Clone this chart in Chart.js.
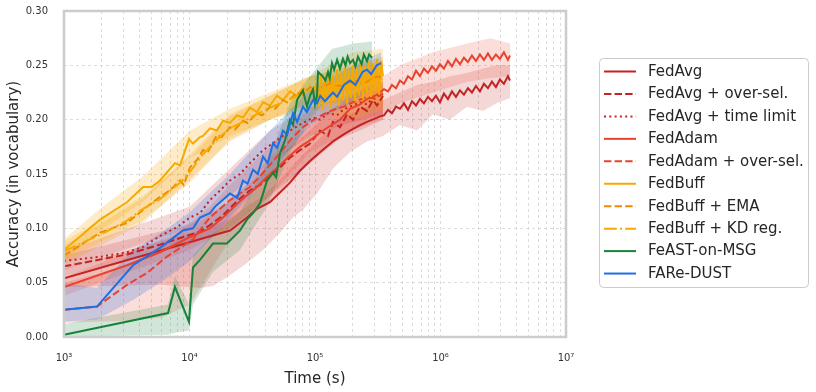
<!DOCTYPE html>
<html><head><meta charset="utf-8">
<script src="https://cdn.jsdelivr.net/npm/chart.js@4/dist/chart.umd.min.js"></script>
<style>html,body{margin:0;padding:0;background:#fff;}#wrap{width:816px;height:392px;}</style>
</head><body><div id="wrap"><canvas id="c" width="816" height="392"></canvas></div>
<script>
const seriesNames = ['FedAvg','FedAvg + over-sel.','FedAvg + time limit','FedAdam','FedAdam + over-sel.','FedBuff','FedBuff + EMA','FedBuff + KD reg.','FeAST-on-MSG','FARe-DUST'];
const xTickLabels = ['10³','10⁴','10⁵','10⁶','10⁷'];
const yTickLabels = ['0.00','0.05','0.10','0.15','0.20','0.25','0.30'];

// FedAvg
const fedAvgT = [1000,21030,28710,34510,43750,52600,63240,75860,91200,109600,139100,167000,190000,228400,259600,300000,330000,
 354600,381600,410600,441900,475500,511700,550600,592500,637600,686100,738300,794500,855000,920000,990000,1065000,1146000,1234000,1328000,1429000,1537000,1654000,1780000,1916000,2062000,2219000,2388000,2569000,2765000,2975000,3201000,3445000,3580000];
const fedAvgY = [0.054,0.098,0.110,0.118,0.124,0.133,0.142,0.153,0.162,0.170,0.180,0.186,0.190,0.195,0.198,0.201,0.203,
 0.204,0.209,0.206,0.212,0.210,0.215,0.209,0.217,0.213,0.219,0.215,0.221,0.217,0.222,0.216,0.224,0.219,0.226,0.221,0.227,0.223,0.229,0.225,0.231,0.226,0.233,0.229,0.235,0.230,0.237,0.233,0.240,0.236];
const fedAvgBandT = [1000,5821,12130,15380,19910,28710,38550,52600,66830,80170,103700,139100,190000,259600,348300,475000,650000,871000,1190000,1626000,2182000,2800000,3580000];
const fedAvgLo = [0.046,0.048,0.045,0.047,0.055,0.068,0.080,0.096,0.110,0.117,0.132,0.155,0.170,0.180,0.185,0.195,0.190,0.205,0.200,0.212,0.208,0.215,0.220];
const fedAvgHi = [0.063,0.088,0.098,0.102,0.108,0.120,0.130,0.145,0.158,0.168,0.180,0.195,0.205,0.212,0.218,0.225,0.232,0.235,0.240,0.243,0.247,0.250,0.250];

// FedAvg + over-sel.
const fedAvgOsT = [1000,3177,5821,10090,12130,14560,18490,23900,30340,36480,43750,52600,63240,75860,91200,109600,127000,139100,158100,180000,200900,228400,259600,289800,311800,348300];
const fedAvgOsY = [0.065,0.076,0.085,0.094,0.097,0.103,0.112,0.125,0.135,0.140,0.148,0.156,0.165,0.172,0.178,0.190,0.185,0.198,0.193,0.205,0.200,0.212,0.208,0.218,0.213,0.222];
const fedAvgOsBandT = [1000,10090,21030,43750,91200,139100,228400,348300];
const fedAvgOsLo = [0.056,0.085,0.100,0.130,0.160,0.180,0.190,0.200];
const fedAvgOsHi = [0.075,0.104,0.125,0.160,0.190,0.210,0.225,0.232];

// FedAvg + time limit
const fedAvgTlT = [1000,2000,3177,4266,5821,7943,10090,12130,14560,16550,21030,25240,30340,38550,49770,63240,80170,96380,109600,127000,150000,167000,190000,228400,259600,289800,348300];
const fedAvgTlY = [0.070,0.074,0.078,0.083,0.093,0.101,0.110,0.114,0.126,0.132,0.144,0.150,0.160,0.172,0.181,0.190,0.197,0.202,0.200,0.206,0.204,0.209,0.212,0.216,0.214,0.220,0.224];
const fedAvgTlBandT = [1000,10090,21030,43750,91200,167000,348300];
const fedAvgTlLo = [0.062,0.100,0.130,0.160,0.185,0.195,0.205];
const fedAvgTlHi = [0.079,0.120,0.155,0.190,0.212,0.220,0.235];

// FedAdam
const fedAdamT = [1000,3177,5821,10090,14560,18490,25240,34510,43750,52600,63240,75860,91200,109600,127000,158100,190000,228400,259600,300000,330000,
 354600,381600,410600,441900,475500,511700,550600,592500,637600,686100,738300,794500,855000,920000,990000,1065000,1146000,1234000,1328000,1429000,1537000,1654000,1780000,1916000,2062000,2219000,2388000,2569000,2765000,2975000,3201000,3445000,3580000];
const fedAdamY = [0.046,0.066,0.078,0.092,0.100,0.110,0.125,0.138,0.150,0.158,0.167,0.175,0.181,0.188,0.193,0.200,0.210,0.214,0.219,0.222,0.225,
 0.228,0.226,0.232,0.229,0.236,0.233,0.240,0.237,0.245,0.240,0.247,0.243,0.249,0.245,0.251,0.247,0.254,0.249,0.256,0.251,0.257,0.253,0.259,0.254,0.260,0.255,0.261,0.255,0.260,0.256,0.262,0.255,0.259];
const fedAdamBandT = [1000,10090,21030,43750,91200,190000,348300,475000,871000,1626000,2500000,3580000];
const fedAdamLo = [0.038,0.080,0.100,0.125,0.160,0.190,0.205,0.215,0.225,0.235,0.238,0.240];
const fedAdamHi = [0.055,0.100,0.125,0.165,0.195,0.222,0.240,0.250,0.262,0.270,0.275,0.270];

// FedAdam + over-sel.
const fedAdamOsT = [1000,1832,3177,4581,6623,10660,14560,21030,30340,38550,49770,63240,80170,103700,139100,170000,200000,259600,300000,348300];
const fedAdamOsY = [0.025,0.028,0.048,0.059,0.074,0.090,0.110,0.126,0.138,0.151,0.166,0.181,0.193,0.202,0.209,0.212,0.216,0.221,0.219,0.224];
const fedAdamOsBandT = [1000,3177,6000,10090,14560,21030,43750,91200,190000,348300];
const fedAdamOsLo = [0.013,0.015,0.018,0.030,0.060,0.090,0.130,0.170,0.190,0.200];
const fedAdamOsHi = [0.050,0.065,0.085,0.105,0.120,0.140,0.175,0.210,0.225,0.235];

// FedBuff
const fedBuffT = [1000,1936,3177,4266,5000,5821,7660,8395,9903,10660,12130,12820,14560,16550,18490,21030,23900,26680,30340,34510,38550,43750,49770,55590,63240,71940,80170,91200,103700,
 107600,111600,115800,120100,124600,129300,134100,139100,144300,149700,155300,161100,167100,173400,179900,186600,193600,200800,208300,216100,224200,232600,241300,250300,259700,269400,279500,289900,300700,312000,323700,335800,348300];
const fedBuffY = [0.080,0.108,0.124,0.138,0.138,0.144,0.160,0.158,0.182,0.178,0.184,0.185,0.192,0.190,0.199,0.197,0.204,0.202,0.211,0.207,0.216,0.213,0.222,0.218,0.226,0.222,0.229,0.226,0.232,
 0.212,0.240,0.209,0.238,0.214,0.243,0.211,0.241,0.216,0.246,0.213,0.244,0.218,0.248,0.215,0.246,0.220,0.250,0.217,0.248,0.222,0.252,0.219,0.250,0.224,0.254,0.221,0.252,0.226,0.256,0.223,0.254,0.240];
const fedBuffBandT = [1000,1936,4266,10090,21030,43750,91200,200000,348300];
const fedBuffLo = [0.070,0.097,0.125,0.165,0.185,0.200,0.210,0.200,0.210];
const fedBuffHi = [0.090,0.118,0.148,0.190,0.210,0.225,0.240,0.262,0.265];

// FedBuff + EMA
const fedBuffEmaT = [1000,1936,3177,4266,5821,7000,8395,9000,10090,11480,12820,14000,16550,18000,21030,23000,26680,29000,34510,38000,43750,48000,55590,60000,71940,80000,91200,103700,130000,160000,200000,250000,300000,348300];
const fedBuffEmaY = [0.075,0.096,0.105,0.117,0.129,0.135,0.144,0.140,0.156,0.163,0.172,0.170,0.186,0.184,0.193,0.191,0.199,0.197,0.206,0.204,0.212,0.210,0.218,0.216,0.225,0.223,0.230,0.228,0.233,0.231,0.236,0.234,0.239,0.240];
const fedBuffEmaBandT = [1000,4266,10090,21030,43750,91200,348300];
const fedBuffEmaLo = [0.066,0.105,0.145,0.180,0.200,0.215,0.215];
const fedBuffEmaHi = [0.084,0.128,0.168,0.205,0.222,0.240,0.258];

// FedBuff + KD reg.
const fedBuffKdT = [1000,1936,3177,4266,5821,8395,10090,12820,16550,21030,26680,34510,43750,55590,71940,91200,120000,160000,200000,250000,300000,348300];
const fedBuffKdY = [0.079,0.094,0.107,0.118,0.127,0.142,0.152,0.168,0.182,0.192,0.198,0.205,0.211,0.216,0.222,0.227,0.230,0.234,0.232,0.237,0.235,0.238];
const fedBuffKdBandT = [1000,4266,10090,21030,43750,91200,348300];
const fedBuffKdLo = [0.070,0.108,0.142,0.182,0.200,0.215,0.218];
const fedBuffKdHi = [0.088,0.130,0.165,0.203,0.222,0.240,0.255];

// FeAST-on-MSG
const feastT = [1000,6745,7660,9903,10660,12130,15380,19910,25240,28710,32060,36480,41500,46240,49000,52600,57680,63240,66830,71940,80170,86300,91200,96380,100000,103700,105700,110000,115000,121000,127000,131000,136600,142000,150000,158100,167000,175000,182000,190000,200900,210000,220000,235000,245000,259600,270000,284400];
const feastY = [0.002,0.022,0.046,0.014,0.064,0.071,0.086,0.086,0.098,0.108,0.114,0.123,0.144,0.151,0.147,0.169,0.181,0.200,0.195,0.218,0.227,0.212,0.222,0.228,0.214,0.222,0.244,0.242,0.240,0.236,0.244,0.238,0.252,0.246,0.255,0.247,0.256,0.250,0.258,0.252,0.255,0.249,0.258,0.251,0.260,0.254,0.260,0.257];
const feastBandT = [1000,6745,7660,9903,10660,15380,25240,41500,63240,91200,136600,200900,284400];
const feastLo = [0.000,0.002,0.004,0.006,0.030,0.060,0.080,0.120,0.170,0.200,0.225,0.228,0.235];
const feastHi = [0.012,0.030,0.056,0.030,0.075,0.095,0.115,0.160,0.215,0.240,0.265,0.270,0.272];

// FARe-DUST
const dustT = [1000,1832,3548,5821,8872,10660,12130,14560,16000,21030,24000,26680,29000,32060,35000,38550,42000,46240,50000,55590,60000,66830,72000,80170,86000,96380,103700,110000,120000,139100,150000,170000,190000,210000,240000,259600,280000,310000,336000];
const dustY = [0.025,0.028,0.066,0.082,0.098,0.100,0.110,0.114,0.120,0.132,0.128,0.144,0.141,0.154,0.150,0.166,0.160,0.178,0.174,0.190,0.186,0.206,0.198,0.212,0.207,0.218,0.215,0.222,0.217,0.225,0.221,0.232,0.236,0.232,0.244,0.246,0.242,0.250,0.252];
const dustBandT = [1000,1832,3548,5821,10090,21030,43750,91200,190000,336000];
const dustLo = [0.014,0.016,0.034,0.050,0.070,0.110,0.150,0.195,0.215,0.235];
const dustHi = [0.050,0.045,0.080,0.095,0.115,0.150,0.190,0.228,0.248,0.262];

const zip = (t, v) => { const n = Math.min(t.length, v.length); const out = []; for (let i = 0; i < n; i++) out.push({x: t[i], y: v[i]}); return out; };

const series = [
  {name: seriesNames[9], t: dustT, y: dustY, bt: dustBandT, lo: dustLo, hi: dustHi, color: '#1f6fe3', fill: 'rgba(31,111,227,0.22)', dash: []},
  {name: seriesNames[8], t: feastT, y: feastY, bt: feastBandT, lo: feastLo, hi: feastHi, color: '#17823a', fill: 'rgba(23,130,58,0.2)', dash: []},
  {name: seriesNames[7], t: fedBuffKdT, y: fedBuffKdY, bt: fedBuffKdBandT, lo: fedBuffKdLo, hi: fedBuffKdHi, color: '#f7a900', fill: 'rgba(247,169,0,0.2)', dash: [12.8,3.2,2,3.2]},
  {name: seriesNames[6], t: fedBuffEmaT, y: fedBuffEmaY, bt: fedBuffEmaBandT, lo: fedBuffEmaLo, hi: fedBuffEmaHi, color: '#ee8a00', fill: 'rgba(238,138,0,0.2)', dash: [7.4,3.2]},
  {name: seriesNames[5], t: fedBuffT, y: fedBuffY, bt: fedBuffBandT, lo: fedBuffLo, hi: fedBuffHi, color: '#f7a900', fill: 'rgba(247,169,0,0.22)', dash: []},
  {name: seriesNames[4], t: fedAdamOsT, y: fedAdamOsY, bt: fedAdamOsBandT, lo: fedAdamOsLo, hi: fedAdamOsHi, color: '#e8432f', fill: 'rgba(232,67,47,0.18)', dash: [7.4,3.2]},
  {name: seriesNames[3], t: fedAdamT, y: fedAdamY, bt: fedAdamBandT, lo: fedAdamLo, hi: fedAdamHi, color: '#e8432f', fill: 'rgba(232,67,47,0.18)', dash: []},
  {name: seriesNames[2], t: fedAvgTlT, y: fedAvgTlY, bt: fedAvgTlBandT, lo: fedAvgTlLo, hi: fedAvgTlHi, color: '#c42323', fill: 'rgba(196,35,35,0.18)', dash: [2,3.3]},
  {name: seriesNames[1], t: fedAvgOsT, y: fedAvgOsY, bt: fedAvgOsBandT, lo: fedAvgOsLo, hi: fedAvgOsHi, color: '#c42323', fill: 'rgba(196,35,35,0.18)', dash: [7.4,3.2]},
  {name: seriesNames[0], t: fedAvgT, y: fedAvgY, bt: fedAvgBandT, lo: fedAvgLo, hi: fedAvgHi, color: '#c42323', fill: 'rgba(196,35,35,0.18)', dash: []}
];

const datasets = [];
series.forEach(s => {
  datasets.push({label: s.name, isSeries: true, data: zip(s.t, s.y), borderColor: s.color, backgroundColor: s.color,
    borderWidth: 2, borderDash: s.dash, pointRadius: 0, tension: 0, fill: false});
});
series.forEach(s => {
  datasets.push({label: '', data: zip(s.bt, s.hi), borderWidth: 0, borderColor: 'rgba(0,0,0,0)', backgroundColor: s.fill, pointRadius: 0, tension: 0, fill: '+1'});
  datasets.push({label: '', data: zip(s.bt, s.lo), borderWidth: 0, borderColor: 'rgba(0,0,0,0)', backgroundColor: s.fill, pointRadius: 0, tension: 0, fill: false});
});

const xTickValues = [];
for (let e = 3; e <= 6; e++) for (let m = 1; m <= 9; m++) xTickValues.push(m * Math.pow(10, e));
xTickValues.push(1e7);

const FONT = "'DejaVu Sans', sans-serif";

const framePlugin = {
  id: 'frameLegend',
  afterDatasetsDraw(chart) {
    const {ctx, chartArea: a} = chart;
    ctx.save();
    ctx.strokeStyle = '#cccccc';
    ctx.lineWidth = 2.5;
    ctx.setLineDash([]);
    ctx.strokeRect(a.left, a.top, a.right - a.left, a.bottom - a.top);
    ctx.restore();
  },
  afterDraw(chart) {
    const ctx = chart.ctx;
    ctx.save();
    const bx = 599.5, by = 58.5, bw = 209, bh = 229, r = 4;
    ctx.beginPath();
    ctx.moveTo(bx + r, by); ctx.lineTo(bx + bw - r, by); ctx.quadraticCurveTo(bx + bw, by, bx + bw, by + r);
    ctx.lineTo(bx + bw, by + bh - r); ctx.quadraticCurveTo(bx + bw, by + bh, bx + bw - r, by + bh);
    ctx.lineTo(bx + r, by + bh); ctx.quadraticCurveTo(bx, by + bh, bx, by + bh - r);
    ctx.lineTo(bx, by + r); ctx.quadraticCurveTo(bx, by, bx + r, by);
    ctx.closePath();
    ctx.fillStyle = 'rgba(255,255,255,0.85)';
    ctx.fill();
    ctx.strokeStyle = '#cccccc'; ctx.lineWidth = 1; ctx.stroke();
    ctx.font = '15px ' + FONT;
    ctx.textBaseline = 'middle';
    ctx.fillStyle = '#262626';
    seriesNames.forEach((name, i) => {
      const ds = chart.data.datasets.find(d => d.isSeries && d.label === name);
      const y = 71.5 + i * 22.45;
      ctx.beginPath();
      ctx.strokeStyle = ds.borderColor; ctx.lineWidth = 2;
      ctx.setLineDash(ds.borderDash || []);
      ctx.moveTo(604, y); ctx.lineTo(636, y); ctx.stroke();
      ctx.setLineDash([]);
      ctx.fillText(name, 648, y + 0.5);
    });
    ctx.restore();
  }
};

new Chart(document.getElementById('c'), {
  type: 'line',
  data: {datasets},
  options: {
    responsive: false, devicePixelRatio: 1, animation: false,
    layout: {padding: {left: 0, right: 250, top: 11, bottom: 0}},
    plugins: {legend: {display: false}, tooltip: {enabled: false}, filler: {propagate: false}},
    scales: {
      x: {
        type: 'logarithmic', min: 1000, max: 1e7,
        afterBuildTicks: (scale) => { scale.ticks = xTickValues.map(v => ({value: v})); },
        afterFit: (scale) => { scale.height = 55; scale.paddingLeft = 0; scale.paddingRight = 0; },
        ticks: {autoSkip: false, maxRotation: 0, padding: 15, color: '#333333', font: {family: FONT, size: 10},
          callback: (v) => { const l = Math.log10(v); return Math.abs(l - Math.round(l)) < 1e-9 ? xTickLabels[Math.round(l) - 3] : ''; }},
        grid: {color: '#d4d4d4', lineWidth: 0.8, drawTicks: false},
        border: {display: false, dash: [3, 3]},
        title: {display: true, text: 'Time (s)', color: '#262626', font: {family: FONT, size: 15}, padding: {top: 0, bottom: 4}}
      },
      y: {
        type: 'linear', min: 0, max: 0.3,
        afterFit: (scale) => { scale.width = 64; scale.paddingTop = 0; scale.paddingBottom = 0; },
        ticks: {stepSize: 0.05, padding: 16, color: '#333333', font: {family: FONT, size: 10},
          callback: (v) => yTickLabels[Math.round(v / 0.05)]},
        grid: {color: '#d4d4d4', lineWidth: 0.8, drawTicks: false},
        border: {display: false, dash: [3, 3]},
        title: {display: true, text: 'Accuracy (in vocabulary)', color: '#262626', font: {family: FONT, size: 15}, padding: {top: 5, bottom: 0}}
      }
    }
  },
  plugins: [framePlugin]
});
</script></body></html>
